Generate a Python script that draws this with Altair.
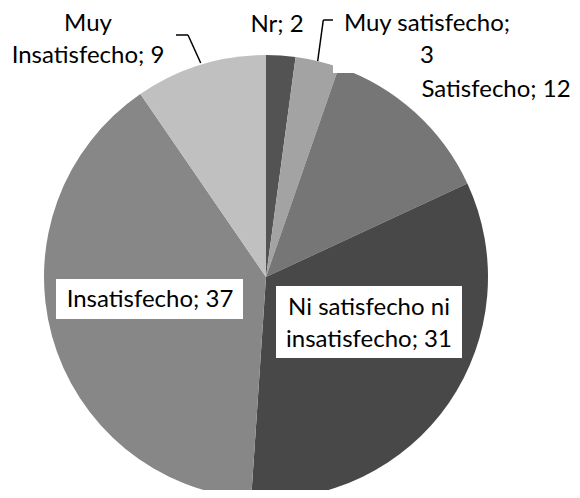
import altair as alt
import pandas as pd

# ---- data ----
categories = ["Nr", "Muy satisfecho", "Satisfecho",
              "Ni satisfecho ni insatisfecho", "Insatisfecho", "Muy Insatisfecho"]
values = [2, 3, 12, 31, 37, 9]
colors = ["#535353", "#a3a3a3", "#767676", "#484848", "#878787", "#c0c0c0"]

# label lines per category (text only)
label_lines = [
    ["Nr; 2"],
    ["Muy satisfecho;", "3"],
    ["Satisfecho; 12"],
    ["Ni satisfecho ni", "insatisfecho; 31"],
    ["Insatisfecho; 37"],
    ["Muy", "Insatisfecho; 9"],
]

# ---- layout (page pixels) ----
M = 8  # page margin
CX, CY, R = 266, 277, 222
label_pos = [
    [(277, 24)],
    [(427, 23), (427, 55)],
    [(496, 89)],
    [(369, 307), (369, 339)],
    [(150, 299)],
    [(88, 23), (88, 55)],
]
boxes = [(333, 8, 522, 73), (56, 279, 243, 319), (276, 286, 462, 358)]
leaders = [
    (176, 35, 188, 35), (188, 35, 200.7, 63),
    (317.7, 61, 323.3, 20), (323.3, 20, 333, 20),
]

pie_df = pd.DataFrame({"cat": categories, "value": values, "idx": range(len(values))})

pie = alt.Chart(pie_df).mark_arc(outerRadius=R, stroke=None).encode(
    theta=alt.Theta("value:Q", stack=True),
    color=alt.Color("cat:N", scale=alt.Scale(domain=categories, range=colors), legend=None),
    order=alt.Order("idx:Q"),
    x=alt.value(CX - M),
    y=alt.value(CY - M),
)

layers = [pie]

for (x1, y1, x2, y2) in boxes:
    layers.append(
        alt.Chart(pd.DataFrame({"a": [0]})).mark_rect(color="white").encode(
            x=alt.value(x1 - M), x2=alt.value(x2 - M),
            y=alt.value(y1 - M), y2=alt.value(y2 - M),
        )
    )

for (x1, y1, x2, y2) in leaders:
    layers.append(
        alt.Chart(pd.DataFrame({"a": [0]})).mark_rule(color="black", strokeWidth=1.5).encode(
            x=alt.value(x1 - M), x2=alt.value(x2 - M),
            y=alt.value(y1 - M), y2=alt.value(y2 - M),
        )
    )

for lines, poss in zip(label_lines, label_pos):
    for t, (px, py) in zip(lines, poss):
        layers.append(
            alt.Chart(pd.DataFrame({"t": [t]})).mark_text(
                font="Lato", fontSize=24, color="black", align="center", baseline="middle"
            ).encode(
                text="t:N",
                x=alt.value(px - M),
                y=alt.value(py - M + 1),
            )
        )

chart = alt.layer(*layers).properties(
    width=564, height=482,
    autosize=alt.AutoSizeParams(type="none"),
    padding=0,
).configure_view(stroke=None)

chart.save("out.html", embed_options={"renderer": "svg", "actions": False})
